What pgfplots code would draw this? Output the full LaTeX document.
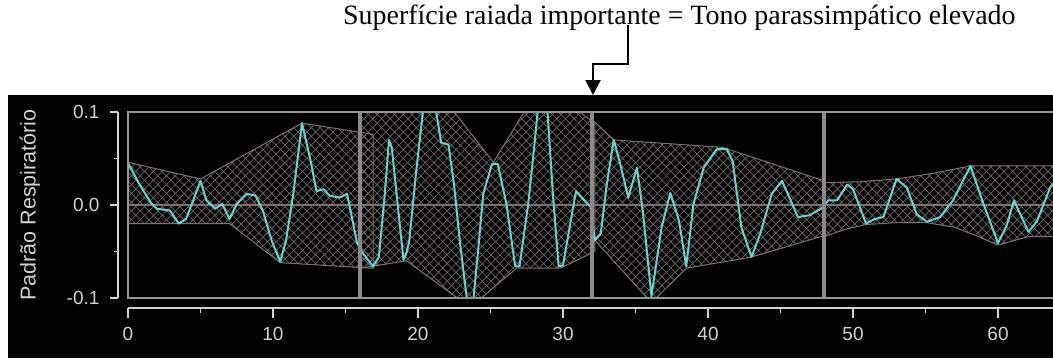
\documentclass[border=0pt]{standalone}
\usepackage{pgfplots}
\pgfplotsset{compat=1.18}
\usepackage{fontspec}
\setmainfont{Liberation Serif}
\newfontfamily\sansf{Liberation Sans}
\usetikzlibrary{patterns.meta,arrows.meta}
\definecolor{cyanl}{RGB}{100,212,206}
\definecolor{axgray}{RGB}{210,210,210}
\definecolor{boxgray}{RGB}{150,150,150}
\definecolor{sepgray}{RGB}{138,138,138}
\definecolor{envgray}{RGB}{125,115,115}
\definecolor{hatchc}{RGB}{112,102,106}
\definecolor{zerocol}{RGB}{125,112,112}
\tikzset{hatchfill/.style={draw=envgray, line width=1pt, pattern={Hatch[angle=45,distance=6.2pt,line width=0.7pt]}, pattern color=hatchc}}
\begin{document}
\begin{tikzpicture}
\useasboundingbox (0pt,0pt) rectangle (1053pt,360pt);
\fill[black] (8pt,2pt) rectangle (1053pt,265pt);
\draw[line width=2pt,-{Triangle[width=15pt,length=15pt]}] (628pt,335pt) -- (628pt,296pt) -- (593pt,296pt) -- (593pt,265pt);
\node[anchor=base west, inner sep=0pt, font=\fontsize{27.9}{30}\selectfont] at (343pt,336pt) {Superfície raiada importante = Tono parassimpático elevado};

% main plotting area
\begin{axis}[at={(128pt,62pt)}, anchor=south west, scale only axis,
  width=928pt, height=186pt, xmin=0, xmax=64, ymin=-0.1, ymax=0.1,
  axis on top, ticks=none,
  axis line style={draw=boxgray, line width=2pt}]
% envelopes
\addplot[hatchfill] coordinates {(0,0.046) (5,0.028) (12,0.088) (16.9,0.076) (16.9,-0.068) (10.5,-0.062) (7,-0.020) (0,-0.020)} -- cycle;
\addplot[hatchfill] coordinates {(16,0.13) (21,0.13) (25.2,0.046) (28.5,0.13) (32.2,0.088) (32.2,-0.05) (29.8,-0.068) (26.8,-0.068) (23.6,-0.11) (19.2,-0.060) (16,-0.068)} -- cycle;
\addplot[hatchfill] coordinates {(32,0.092) (33.5,0.070) (41,0.062) (48,0.026) (48,-0.033) (43,-0.056) (38.5,-0.068) (36.1,-0.105) (32.2,-0.038) (32,-0.04)} -- cycle;
\addplot[hatchfill] coordinates {(48,0.024) (50.5,0.025) (53,0.028) (55.5,0.034) (58.1,0.042) (64.5,0.042) (64.5,-0.034) (62.1,-0.034) (60,-0.043) (58.5,-0.033) (57,-0.024) (55.1,-0.019) (53,-0.019) (50.9,-0.021) (49.5,-0.026) (48,-0.034)} -- cycle;
% zero line
\addplot[zerocol, line width=1.2pt] coordinates {(0,0) (64,0)};
% signal
\addplot[cyanl, line width=2pt, line join=round] coordinates {
(0,0.045) (0.8,0.022) (1.6,0.002) (2.0,-0.004) (2.9,-0.006) (3.5,-0.020) (4.0,-0.015) (4.5,0.005)
(5.0,0.026) (5.4,0.005) (6.0,-0.004) (6.5,0.001) (7.0,-0.015) (7.5,0.001) (8.2,0.012) (8.8,0.010)
(9.3,-0.006) (9.9,-0.038) (10.5,-0.061) (10.9,-0.038) (11.4,0.012) (12.0,0.088) (12.6,0.047)
(13.0,0.015) (13.5,0.017) (13.9,0.010) (14.6,0.008) (15.1,0.012) (15.4,-0.010) (15.8,-0.041)
(16.2,-0.052) (16.9,-0.066) (17.3,-0.056) (17.7,0.01) (18.0,0.070) (18.2,0.061) (18.6,0.0)
(19.0,-0.059) (19.2,-0.052) (19.4,-0.038) (19.9,0.04) (20.4,0.108) (21.2,0.105) (21.6,0.067)
(22.1,0.065) (22.5,0.02) (22.9,-0.041) (23.4,-0.105) (23.8,-0.105) (24.2,-0.04) (24.5,0.012)
(25.1,0.044) (25.5,0.044) (26.1,0.001) (26.7,-0.066) (27.0,-0.066) (27.6,0.001) (28.0,0.06)
(28.3,0.108) (28.9,0.108) (29.3,0.012) (29.7,-0.066) (30.0,-0.065) (30.5,-0.02) (30.9,0.015)
(31.4,0.006) (31.9,-0.002) (32.2,-0.038) (32.6,-0.031) (33.0,0.02) (33.5,0.070) (33.9,0.047)
(34.5,0.008) (35.1,0.040) (35.5,-0.006) (36.1,-0.098) (36.8,-0.024) (37.4,0.013) (38.0,-0.017)
(38.5,-0.066) (39.0,0.001) (39.7,0.040) (40.6,0.060) (41.3,0.060) (41.7,0.047) (42.3,-0.024)
(43.0,-0.056) (43.6,-0.031) (44.4,0.012) (45.1,0.026) (45.7,0.005) (46.2,-0.013) (47.0,-0.011)
(47.8,-0.004) (48.3,0.005) (48.9,0.005) (49.6,0.022) (50.0,0.017) (50.9,-0.020) (51.5,-0.015)
(52.1,-0.013) (53.0,0.028) (53.7,0.019) (54.4,-0.010) (55.1,-0.018) (56.0,-0.013) (56.9,0.005)
(58.1,0.042) (59.0,0.001) (60.0,-0.041) (60.6,-0.022) (61.1,0.005) (62.1,-0.029) (62.7,-0.017)
(63.6,0.019) (64.2,0.03)};
% segment separators
\addplot[sepgray, line width=4.5pt] coordinates {(16,-0.1) (16,0.1)};
\addplot[sepgray, line width=4.5pt] coordinates {(32,-0.1) (32,0.1)};
\addplot[sepgray, line width=4.5pt] coordinates {(48,-0.1) (48,0.1)};
\end{axis}

% y axis (offset)
\begin{axis}[at={(118pt,62pt)}, anchor=south west, scale only axis,
  width=10pt, height=186pt, xmin=0, xmax=1, ymin=-0.1, ymax=0.1,
  axis x line=none, axis y line*=left,
  ytick={-0.1,0,0.1}, yticklabels={-0.1,0.0,0.1}, minor ytick={-0.05,0.05},
  tick align=outside, major tick length=8pt, minor tick length=4pt,
  axis line style={draw=axgray, line width=1.5pt},
  tick style={draw=axgray, line width=1.5pt},
  yticklabel style={font=\sansf\fontsize{19}{19}\selectfont, text=axgray, xshift=-7pt},
  ylabel={Padrão Respiratório},
  ylabel style={at={(axis description cs:-8.8,0.5)}, anchor=center, font=\sansf\fontsize{21.5}{22}\selectfont, text=axgray}]
\end{axis}

% x axis (offset)
\begin{axis}[at={(128pt,52pt)}, anchor=south west, scale only axis,
  width=928pt, height=10pt, xmin=0, xmax=64, ymin=0, ymax=1,
  axis y line=none, axis x line*=bottom,
  xtick={0,10,...,60}, xticklabels={0,10,20,30,40,50,60}, minor xtick={5,15,...,55},
  tick align=outside, major tick length=10pt, minor tick length=5pt,
  axis line style={draw=axgray, line width=1.5pt},
  tick style={draw=axgray, line width=1.5pt},
  xticklabel style={font=\sansf\fontsize{19}{19}\selectfont, text=axgray, yshift=-6pt}]
\end{axis}
\end{tikzpicture}
\end{document}
